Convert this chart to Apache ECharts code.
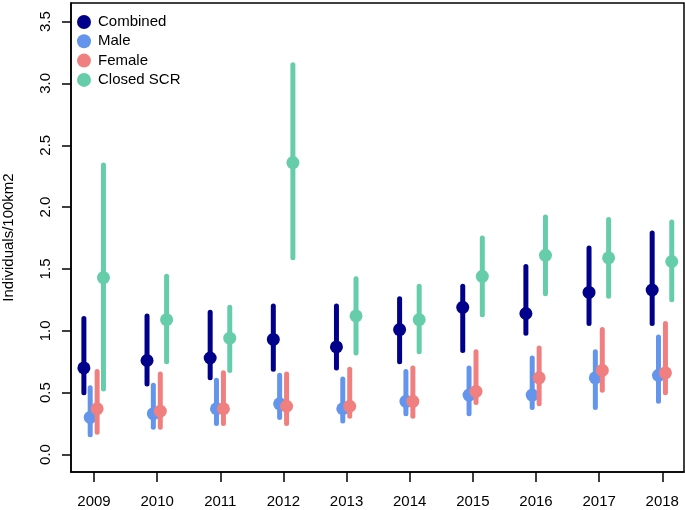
<!DOCTYPE html>
<html>
<head>
<meta charset="utf-8">
<script src="https://cdn.jsdelivr.net/npm/echarts@6/dist/echarts.min.js"></script>
<style>
html,body{margin:0;padding:0;background:#fff;}
#chart{width:685px;height:510px;}
</style>
</head>
<body>
<div id="chart"></div>
<script>
const years = [2009, 2010, 2011, 2012, 2013, 2014, 2015, 2016, 2017, 2018];
const yTicks = [0, 0.5, 1.0, 1.5, 2.0, 2.5, 3.0, 3.5];

const combinedMid = [0.70, 0.76, 0.78, 0.93, 0.87, 1.01, 1.19, 1.14, 1.31, 1.33];
const combinedLo  = [0.50, 0.57, 0.62, 0.69, 0.70, 0.75, 0.84, 0.98, 1.06, 1.06];
const combinedHi  = [1.10, 1.12, 1.15, 1.20, 1.20, 1.26, 1.36, 1.52, 1.67, 1.79];

const maleMid = [0.30, 0.33, 0.37, 0.41, 0.37, 0.43, 0.48, 0.48, 0.62, 0.64];
const maleLo  = [0.16, 0.22, 0.25, 0.30, 0.27, 0.33, 0.33, 0.38, 0.38, 0.43];
const maleHi  = [0.54, 0.56, 0.60, 0.64, 0.61, 0.67, 0.70, 0.78, 0.83, 0.95];

const femaleMid = [0.37, 0.35, 0.37, 0.39, 0.39, 0.43, 0.51, 0.62, 0.68, 0.66];
const femaleLo  = [0.18, 0.22, 0.25, 0.25, 0.31, 0.31, 0.42, 0.41, 0.52, 0.50];
const femaleHi  = [0.67, 0.65, 0.66, 0.65, 0.69, 0.70, 0.83, 0.86, 1.01, 1.06];

const closedMid = [1.43, 1.09, 0.94, 2.36, 1.12, 1.09, 1.44, 1.61, 1.59, 1.56];
const closedLo  = [0.53, 0.75, 0.68, 1.59, 0.82, 0.83, 1.13, 1.30, 1.28, 1.25];
const closedHi  = [2.34, 1.44, 1.19, 3.15, 1.42, 1.36, 1.75, 1.92, 1.90, 1.88];

const groups = [
  {name: 'Combined',   mid: combinedMid, lo: combinedLo, hi: combinedHi, color: '#00008B', offset: -0.16},
  {name: 'Male',       mid: maleMid,     lo: maleLo,     hi: maleHi,     color: '#6495ED', offset: -0.06},
  {name: 'Female',     mid: femaleMid,   lo: femaleLo,   hi: femaleHi,   color: '#F08080', offset: 0.05},
  {name: 'Closed SCR', mid: closedMid,   lo: closedLo,   hi: closedHi,   color: '#66CDAA', offset: 0.15}
];

const FONT = 'Liberation Sans, Arial, sans-serif';

const series = groups.map(g => ({
  name: g.name,
  type: 'custom',
  itemStyle: {color: g.color},
  data: years.map((y, i) => [y + g.offset, g.mid[i], g.lo[i], g.hi[i]]),
  encode: {x: 0, y: 1},
  renderItem: function (params, api) {
    const x = api.value(0);
    const p = api.coord([x, api.value(1)]);
    const lo = api.coord([x, api.value(2)]);
    const hi = api.coord([x, api.value(3)]);
    return {
      type: 'group',
      children: [
        {type: 'line', shape: {x1: lo[0], y1: lo[1], x2: hi[0], y2: hi[1]},
         style: {stroke: g.color, lineWidth: 5, lineCap: 'round'}},
        {type: 'circle', shape: {cx: p[0], cy: p[1], r: 6.5}, style: {fill: g.color}}
      ]
    };
  }
}));

const chart = echarts.init(document.getElementById('chart'));
chart.setOption({
  animation: false,
  backgroundColor: '#fff',
  grid: {left: 71, right: 1, top: 3, bottom: 38, outerBoundsMode: 'none', containLabel: false,
         show: true, borderColor: '#000', borderWidth: 1.5, backgroundColor: 'transparent'},
  legend: {
    orient: 'vertical', left: 72, top: 9.5,
    icon: 'circle', itemWidth: 14, itemHeight: 14, itemGap: 4.3,
    textStyle: {fontFamily: FONT, fontSize: 15, lineHeight: 14, color: '#000', padding: [0, 0, 0, 2]},
    data: groups.map(g => g.name)
  },
  xAxis: {
    type: 'value', min: 2008.636, max: 2018.344, position: 'bottom',
    splitLine: {show: false},
    axisLine: {show: true, onZero: false, lineStyle: {color: '#000', width: 1.5}},
    axisTick: {show: true, inside: false, length: 10, lineStyle: {color: '#000', width: 1.5}, customValues: years},
    axisLabel: {customValues: years, fontFamily: FONT, fontSize: 15, color: '#000', margin: 22, formatter: v => String(v)}
  },
  yAxis: {
    type: 'value', min: -0.1415, max: 3.65, position: 'left',
    name: 'Individuals/100km2', nameLocation: 'middle', nameRotate: 90, nameGap: 55,
    nameTextStyle: {fontFamily: FONT, fontSize: 15, color: '#000'},
    splitLine: {show: false},
    axisLine: {show: true, onZero: false, lineStyle: {color: '#000', width: 1.5}},
    axisTick: {show: true, inside: false, length: 9, lineStyle: {color: '#000', width: 1.5}, customValues: yTicks},
    axisLabel: {customValues: yTicks, rotate: 90, fontFamily: FONT, fontSize: 15, color: '#000', margin: 18, formatter: v => v.toFixed(1)}
  },
  series: series
});
</script>
</body>
</html>
